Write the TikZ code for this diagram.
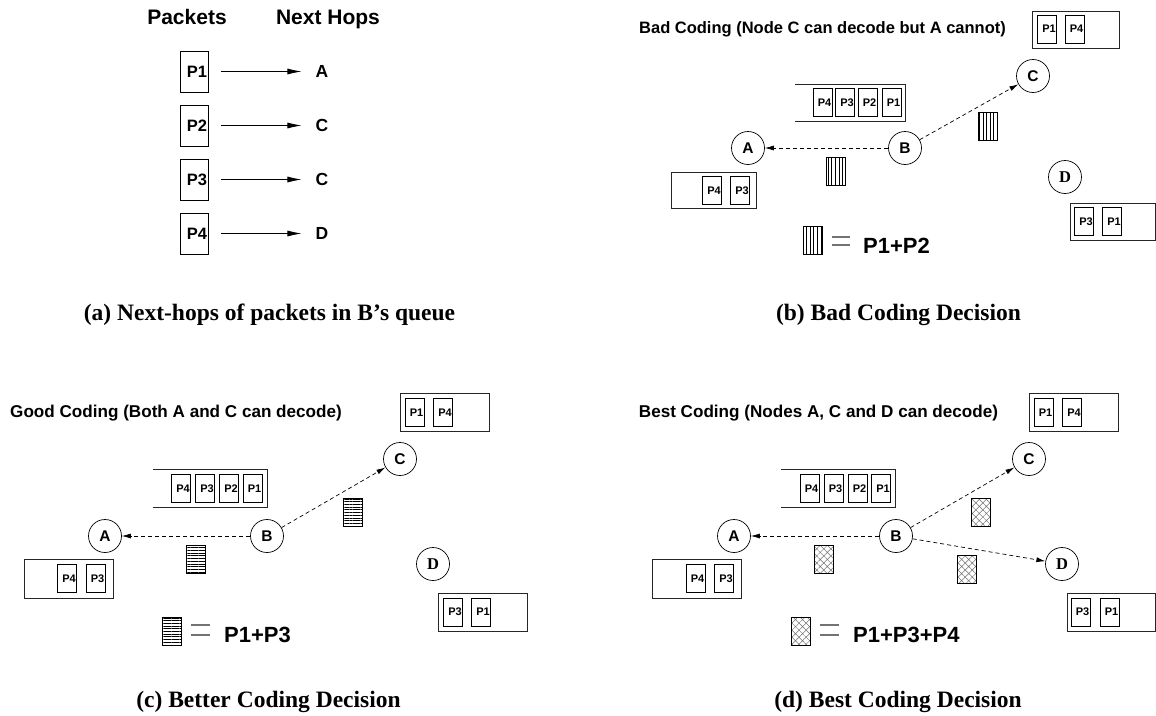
\documentclass[tikz,border=0pt]{standalone}
\usepackage{fontspec}
\setmainfont{Liberation Serif}
\setsansfont{Liberation Sans}
\usetikzlibrary{arrows.meta,patterns.meta}
\newcommand\fsz[1]{\fontsize{#1}{#1}\selectfont}
\tikzset{
 every node/.style={inner sep=0pt},
 head/.style={font=\sffamily\bfseries\fsz{21}, anchor=base},
 bigpkt/.style={draw, line width=0.8pt, minimum height=41pt, text width=26pt, inner xsep=1pt, align=right, font=\sffamily\bfseries\fsz{16.5}},
 hop/.style={font=\sffamily\bfseries\fsz{17.5}},
 hoparrow/.style={-{Latex[length=14pt,width=6pt]}, line width=0.7pt},
 title/.style={font=\sffamily\bfseries\fsz{16.5}, anchor=base},
 titleb/.style={title, font=\sffamily\bfseries\fsz{17.1}},
 capt/.style={font=\rmfamily\bfseries\fsz{23.5}, anchor=base},
 pkt/.style={draw, line width=0.7pt, minimum height=28pt, text width=17.5pt, inner xsep=0.8pt, align=right, font=\sffamily\bfseries\fsz{11}},
 buf/.style={draw=black!85, line width=0.8pt},
 nd/.style={circle, draw, line width=0.7pt, minimum size=33pt, font=\sffamily\bfseries\fsz{15.5}},
 ndD/.style={nd, font=\rmfamily\bfseries\fsz{16.5}},
 tx/.style={dash pattern=on 4pt off 3pt, line width=0.7pt, -{Latex[length=9pt,width=5pt]}},
 code/.style={draw, line width=0.8pt, minimum width=19pt, minimum height=28pt},
 vcode/.style={code, pattern={Lines[angle=90,distance=3.6pt,line width=0.5pt]}},
 hcode/.style={code, pattern={Lines[angle=0,distance=2.7pt,line width=0.6pt]}},
 xcode/.style={code, pattern={Hatch[angle=45,distance=5pt,line width=0.5pt]}, pattern color=black!55},
 eq/.style={draw=black!55, line width=1.2pt},
 sum/.style={font=\sffamily\bfseries\fsz{22}, anchor=base west},
}
\begin{document}
\begin{tikzpicture}[x=1pt,y=-1pt]
\fill[white] (0,0) rectangle (1156,715);
\useasboundingbox (0,0) rectangle (1156,715);

% ---------- panel (a)
\node[head] (hpk) at (187,24) {Packets};
\node[head] (hnh) at (328,24) {Next Hops};
\foreach \i/\y/\h in {1/71.5/A, 2/125.5/C, 3/179.5/C, 4/233.5/D} {
  \node[bigpkt] (ap\i) at (194,\y) {P\i};
  \node[hop] (ah\i) at (322,\y) {\h};
  \draw[hoparrow] ([xshift=13pt]ap\i.east) -- ([xshift=-14pt]ah\i.west);
}
\node[capt] (capa) at (269.5,320) {(a) Next-hops of packets in B’s queue};

% ---------- panel (b)
\node[title] (bt) at (822.5,33) {Bad Coding (Node C can decode but A cannot)};
\node[buf, minimum width=87pt, minimum height=37pt] (bCbox) at (1075.5,29.5) {};
\node[pkt] (bC1) at (1047,29) {P1};
\node[pkt] (bC4) at (1074.5,29) {P4};
\node[nd] (bC) at (1033,76) {C};
\draw[buf] (795,84) -| (905,121) -- (795,121);
\foreach \x/\p in {822.5/4, 845/3, 867.5/2, 891.5/1}
  \node[pkt] (bq\p) at (\x,102.5) {P\p};
\node[nd] (bA) at (748,148) {A};
\node[nd] (bB) at (905,148) {B};
\draw[tx] (bB) -- (bA);
\draw[tx] (bB) -- (bC);
\node[vcode] (bk1) at (835.5,171.5) {};
\node[vcode] (bk2) at (987.5,126) {};
\node[buf, minimum width=85pt, minimum height=36pt] (bAbox) at (713.5,190) {};
\node[pkt] (bA4) at (712,190.5) {P4};
\node[pkt] (bA3) at (740,190.5) {P3};
\node[ndD] (bD) at (1065,177) {D};
\node[buf, minimum width=85.5pt, minimum height=37pt] (bDbox) at (1112.75,221.5) {};
\node[pkt] (bD3) at (1084,221.5) {P3};
\node[pkt] (bD1) at (1112,221.5) {P1};
\node[vcode] (bleg) at (812.5,240.5) {};
\draw[eq] (832,237) -- (850,237) (832,245) -- (850,245);
\node[sum] (bsum) at (863,253) {P1+P2};
\node[capt] (capb) at (898.5,320) {(b) Bad Coding Decision};

% ---------- panel (c)
\node[titleb] (ct) at (176,417) {Good Coding (Both A and C can decode)};
\node[buf, minimum width=89pt, minimum height=38pt] (cCbox) at (444.5,412) {};
\node[pkt] (cC1) at (414.5,412.5) {P1};
\node[pkt] (cC4) at (443,412.5) {P4};
\node[nd] (cC) at (400,459) {C};
\draw[buf] (153,469) -| (267,507) -- (153,507);
\foreach \x/\p in {181/4, 205/3, 229/2, 252.5/1}
  \node[pkt] (cq\p) at (\x,488.5) {P\p};
\node[nd] (cA) at (105,536) {A};
\node[nd] (cB) at (267,536) {B};
\draw[tx] (cB) -- (cA);
\draw[tx] (cB) -- (cC);
\node[hcode] (ck1) at (195.5,559.5) {};
\node[hcode] (ck2) at (353,512.5) {};
\node[buf, minimum width=89pt, minimum height=39pt] (cAbox) at (68.5,578.5) {};
\node[pkt] (cA4) at (67,578.5) {P4};
\node[pkt] (cA3) at (95.5,578.5) {P3};
\node[ndD] (cD) at (433,564) {D};
\node[buf, minimum width=89pt, minimum height=38pt] (cDbox) at (482.5,612) {};
\node[pkt] (cD3) at (453,612) {P3};
\node[pkt] (cD1) at (481,612) {P1};
\node[hcode] (cleg) at (171.5,631) {};
\draw[eq] (191,625) -- (210,625) (191,635) -- (210,635);
\node[sum] (csum) at (224,642) {P1+P3};
\node[capt] (capc) at (268.5,707) {(c) Better Coding Decision};

% ---------- panel (d)
\node[titleb] (dt) at (818.5,417) {Best Coding (Nodes A, C and D can decode)};
\node[buf, minimum width=89pt, minimum height=38pt] (dCbox) at (1073.5,412) {};
\node[pkt] (dC1) at (1043.5,412.5) {P1};
\node[pkt] (dC4) at (1072,412.5) {P4};
\node[nd] (dC) at (1029,459) {C};
\draw[buf] (781,469) -| (895,507) -- (781,507);
\foreach \x/\p in {809.5/4, 833.5/3, 857.5/2, 881/1}
  \node[pkt] (dq\p) at (\x,488.5) {P\p};
\node[nd] (dA) at (734,536) {A};
\node[nd] (dB) at (896,536) {B};
\node[ndD] (dD) at (1062,564) {D};
\draw[tx] (dB) -- (dA);
\draw[tx] (dB) -- (dC);
\draw[tx] (dB) -- (dD);
\node[xcode] (dk1) at (824,559.5) {};
\node[xcode] (dk2) at (981,512.5) {};
\node[xcode] (dk3) at (967,569) {};
\node[buf, minimum width=89pt, minimum height=39pt] (dAbox) at (696.5,578.5) {};
\node[pkt] (dA4) at (695.5,578.5) {P4};
\node[pkt] (dA3) at (724,578.5) {P3};
\node[buf, minimum width=88pt, minimum height=38pt] (dDbox) at (1111,612) {};
\node[pkt] (dD3) at (1080.5,612) {P3};
\node[pkt] (dD1) at (1109.5,612) {P1};
\node[xcode] (dleg) at (800.5,631) {};
\draw[eq] (820,625) -- (839,625) (820,635) -- (839,635);
\node[sum] (dsum) at (853,642) {P1+P3+P4};
\node[capt] (capd) at (898,707) {(d) Best Coding Decision};
\end{tikzpicture}
\end{document}
